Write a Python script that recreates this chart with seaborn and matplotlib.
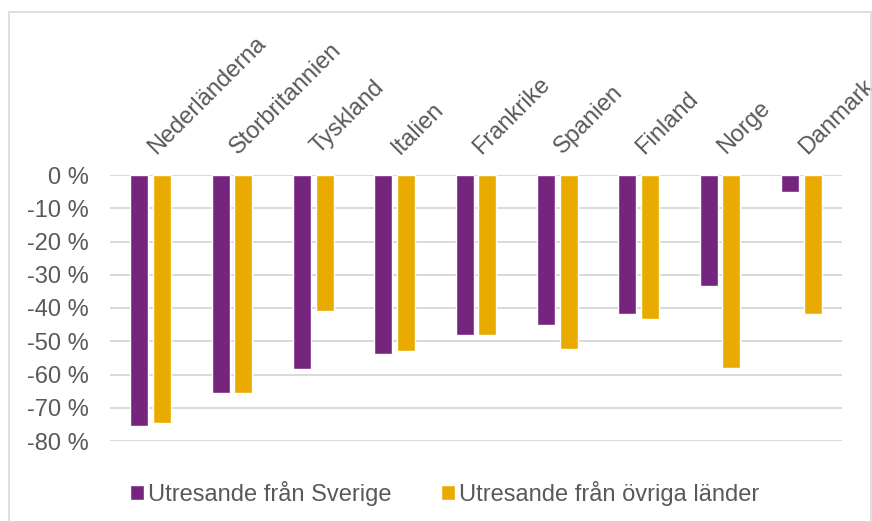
import numpy as np
import pandas as pd
import matplotlib
matplotlib.use("Agg")
import matplotlib.pyplot as plt
import matplotlib.transforms as mtransforms
from matplotlib.patches import Rectangle
import seaborn as sns

countries = ["Nederländerna", "Storbritannien", "Tyskland", "Italien", "Frankrike",
             "Spanien", "Finland", "Norge", "Danmark"]
sverige = [-75.5, -65.5, -58.2, -53.8, -48.2, -45.0, -41.8, -33.3, -5.0]
ovriga = [-74.5, -65.5, -40.8, -53.0, -48.2, -52.3, -43.3, -58.0, -41.7]
series_names = ["Utresande från Sverige", "Utresande från övriga länder"]
yticks = [0, -10, -20, -30, -40, -50, -60, -70, -80]

df = pd.DataFrame({
    "land": countries * 2,
    "serie": [series_names[0]] * len(countries) + [series_names[1]] * len(countries),
    "varde": sverige + ovriga,
})

sns.set_theme(style="white")
plt.rcParams["font.family"] = ["Liberation Sans", "DejaVu Sans"]
plt.rcParams["axes.unicode_minus"] = False

txt = "#595959"
fig = plt.figure(figsize=(8.72, 5.21), dpi=100)
W, H = 872, 521
ax = fig.add_axes([110 / W, 1 - 441 / H, (842 - 110) / W, (441 - 175) / H])

sns.barplot(data=df, x="land", y="varde", hue="serie", order=countries,
            hue_order=series_names, palette=["#76257F", "#EAAB00"],
            saturation=1, width=0.56, gap=0.2, ax=ax, legend=True, zorder=3)

ax.set_ylim(-80, 0)
ax.set_xlim(-0.5, len(countries) - 0.5)
ax.set_yticks(yticks)
ax.set_yticklabels([f"{v} %" for v in yticks])
ax.yaxis.grid(True, color="#D9D9D9", linewidth=1.4, zorder=0)
ax.set_axisbelow(True)
for s in ax.spines.values():
    s.set_visible(False)
ax.set_xlabel("")
ax.set_ylabel("")
ax.tick_params(axis="y", length=0, pad=15, labelsize=17, labelcolor=txt)

ax.xaxis.tick_top()
ax.tick_params(axis="x", length=0, pad=12, labelsize=17, labelcolor=txt,
               top=False, labeltop=True, bottom=False, labelbottom=False)
offset = mtransforms.ScaledTranslation(9 / 100, 0, fig.dpi_scale_trans)
for lab in ax.get_xticklabels():
    lab.set_rotation(45)
    lab.set_ha("left")
    lab.set_va("bottom")
    lab.set_rotation_mode("anchor")
    lab.set_transform(lab.get_transform() + offset)

handles, labels = ax.get_legend_handles_labels()
ax.legend(handles, labels, loc="center", bbox_to_anchor=(444.5 / W, 1 - 493 / H),
          bbox_transform=fig.transFigure, ncol=2, frameon=False, fontsize=17,
          labelcolor=txt, handlelength=0.6, handleheight=0.6, handletextpad=0.17,
          columnspacing=2.1, borderaxespad=0)

fig.patches.append(Rectangle((9 / W, -0.05), (871 - 9) / W, 1.05 - 12 / H,
                             transform=fig.transFigure, fill=False,
                             edgecolor="#D9D9D9", linewidth=1.2))

fig.savefig("out.png", dpi=100)
